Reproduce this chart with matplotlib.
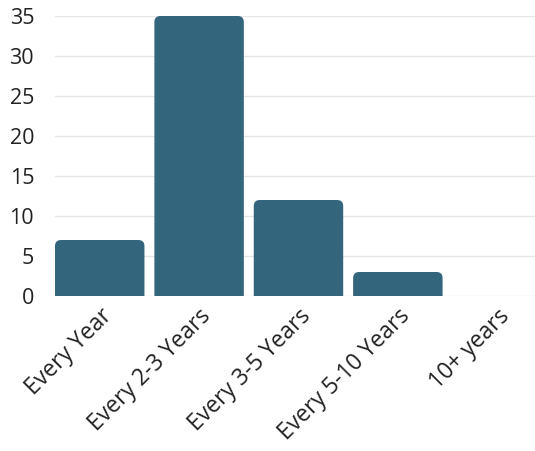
import matplotlib.pyplot as plt
from matplotlib.patches import FancyBboxPatch

categories = ["Every Year", "Every 2-3 Years", "Every 3-5 Years", "Every 5-10 Years", "10+ years"]
counts = [7, 35, 12, 3, 0]

bar_color = "#33657d"
plt.rcParams['font.family'] = ['Open Sans', 'DejaVu Sans']

fig = plt.figure(figsize=(5.35, 4.51), dpi=100)
ax = fig.add_axes([55 / 535, 1 - 296 / 451, 480 / 535, 280 / 451])

ax.set_xlim(-0.45, 4.38)
ax.set_ylim(0, 35)

bars = ax.bar(range(len(counts)), counts, width=0.9, color=bar_color)

# redraw bars with rounded tops; the box dips below zero so the
# bottom corners get clipped off by the axes
xpx = (ax.get_xlim()[1] - ax.get_xlim()[0]) / 480
ypx = (ax.get_ylim()[1] - ax.get_ylim()[0]) / 280
aspect = ypx / xpx
r = 6 * xpx
for b in bars:
    b.set_visible(False)
    x, w, h = b.get_x(), b.get_width(), b.get_height()
    if h <= 0:
        continue
    ax.add_patch(FancyBboxPatch((x, -2), w, h + 2, boxstyle=f"round,pad=0,rounding_size={r}",
                                mutation_aspect=aspect, fc=bar_color, ec="none", zorder=3))

ax.set_yticks(range(0, 36, 5))
ax.grid(axis="y", color="#e6e6e6", linewidth=1)
ax.set_axisbelow(True)
for s in ax.spines.values():
    s.set_visible(False)
ax.tick_params(length=0, colors="#222222")
ax.tick_params(axis="y", labelsize=15.5, pad=15)
ax.tick_params(axis="x", labelsize=16.5, pad=6)
ax.set_xticks(range(len(categories)))
ax.set_xticklabels(categories, rotation=45, ha="right", rotation_mode="anchor")

fig.savefig("out.png", dpi=100)
